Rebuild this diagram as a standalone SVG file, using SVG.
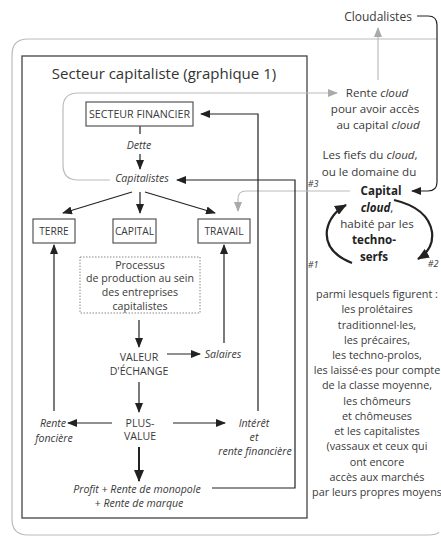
<svg xmlns="http://www.w3.org/2000/svg" width="441" height="538" viewBox="0 0 441 538">
<defs>
<marker id="ab" markerUnits="userSpaceOnUse" markerWidth="10" markerHeight="8" refX="9" refY="4" orient="auto"><path d="M0,0 L10,4 L0,8 Z" fill="#222"/></marker>
<marker id="ag" markerUnits="userSpaceOnUse" markerWidth="10" markerHeight="8" refX="9" refY="4" orient="auto"><path d="M0,0 L10,4 L0,8 Z" fill="#aaa"/></marker>
<marker id="abig" markerUnits="userSpaceOnUse" markerWidth="12" markerHeight="10" refX="11" refY="5" orient="auto"><path d="M0,0 L12,5 L0,10 Z" fill="#222"/></marker>
</defs>
<style>
text{font-family:"Open Sans","Noto Sans","Liberation Sans",sans-serif;fill:#3a3a3a;}
.t{font-size:10.6px;text-anchor:middle;}
.r{font-size:11.6px;text-anchor:middle;}
.l{font-size:10.8px;text-anchor:middle;}
.i{font-style:italic;}
.b{font-weight:bold;fill:#222;}
.bx{font-size:10.2px;text-anchor:middle;}
.box{fill:#fff;stroke:#555;stroke-width:1.2;}
.k{fill:none;stroke:#222;stroke-width:1.2;}
.g{fill:none;stroke:#bbb;stroke-width:1.2;}
</style>
<path d="M437,39 H28 Q12,39 12,55 V519 Q12,535 28,535 H428 Q437,535 439,532" fill="none" stroke="#bbb" stroke-width="1.2"/>
<rect x="22" y="56" width="285" height="462" fill="none" stroke="#444" stroke-width="1.3"/>
<text x="164" y="79" style="font-size:15px;text-anchor:middle;fill:#333">Secteur capitaliste (graphique 1)</text>
<g id="connectors">
<path class="g" d="M110,180 H78 Q63,180 63,165 V108 Q63,93 78,93 H337" marker-end="url(#ag)"/>
<path class="g" d="M378,80 V28" marker-end="url(#ag)"/>
<path class="g" d="M350,191 H246 Q238,191 238,199 V211" marker-end="url(#ag)"/>
<path class="k" d="M417,16 H428 Q437,16 437,25 V182 Q437,191 428,191 H412" marker-end="url(#ab)"/>
<path class="k" d="M140,126 V134"/>
<path class="k" d="M140,154 V169" marker-end="url(#ab)"/>
<path class="k" d="M132,192 L63,213" marker-end="url(#ab)"/>
<path class="k" d="M140,192 V213" marker-end="url(#ab)"/>
<path class="k" d="M145,192 L215,213" marker-end="url(#ab)"/>
<path class="k" d="M258,411 V114 H201" marker-end="url(#ab)"/>
<path class="k" d="M212,488 H295 V180 H177" marker-end="url(#ab)"/>
<path class="k" d="M54,411 V245" marker-end="url(#ab)"/>
<path class="k" d="M224,343 V245" marker-end="url(#ab)"/>
<path class="k" d="M139,320 V347" marker-end="url(#ab)"/>
<path class="k" d="M167,354 H200" marker-end="url(#ab)"/>
<path class="k" d="M139,382 V412" marker-end="url(#ab)"/>
<path class="k" d="M112,423 H68" marker-end="url(#ab)"/>
<path class="k" d="M173,423 H225" marker-end="url(#ab)"/>
<path d="M139,447 V481" fill="none" stroke="#222" stroke-width="2" marker-end="url(#abig)"/>
<path d="M352,263 Q324,252 327,230 Q330,214 346,205" fill="none" stroke="#222" stroke-width="2.2" marker-end="url(#abig)"/>
<path d="M394,200 Q428,208 432,232 Q434,249 418,259" fill="none" stroke="#222" stroke-width="2.2" marker-end="url(#abig)"/>
</g>
<g id="cloudalistes"><text x="378" y="21" style="font-size:12px;text-anchor:middle">Cloudalistes</text></g>
<g id="rente-cloud">
<text class="r" x="377" y="97">Rente <tspan class="i">cloud</tspan></text>
<text class="r" x="375" y="113">pour avoir accès</text>
<text class="r" x="378" y="128.5">au capital <tspan class="i">cloud</tspan></text>
</g>
<g id="secteur-financier"><rect class="box" x="86" y="102" width="107" height="24"/><text x="139.5" y="118" style="font-size:10px;text-anchor:middle" textLength="101" lengthAdjust="spacingAndGlyphs">SECTEUR FINANCIER</text></g>
<g id="dette"><text class="t i" x="139" y="149">Dette</text></g>
<g id="capitalistes"><text class="t i" x="142" y="182">Capitalistes</text></g>
<g id="terre"><rect class="box" x="33" y="219" width="42" height="24"/><text class="bx" x="54" y="235">TERRE</text></g>
<g id="capital"><rect class="box" x="113" y="219" width="43" height="24"/><text class="bx" x="134.5" y="235">CAPITAL</text></g>
<g id="travail"><rect class="box" x="198" y="219" width="52" height="24"/><text class="bx" x="224" y="235">TRAVAIL</text></g>
<g id="processus">
<rect x="80" y="257" width="120" height="56" fill="none" stroke="#888" stroke-width="1" stroke-dasharray="1.5,1.5"/>
<text class="t" x="140" y="268.5">Processus</text>
<text class="t" x="140" y="282">de production au sein</text>
<text class="t" x="140" y="296">des entreprises</text>
<text class="t" x="140" y="310">capitalistes</text>
</g>
<g id="valeur"><text class="t" x="139" y="361">VALEUR</text><text class="t" x="139" y="375">D'ÉCHANGE</text></g>
<g id="salaires"><text class="t i" x="223" y="358">Salaires</text></g>
<g id="plus-value"><text class="t" x="140" y="427">PLUS-</text><text class="t" x="140" y="440">VALUE</text></g>
<g id="rente-fonciere"><text class="t i" x="53" y="427">Rente</text><text class="t i" x="54" y="442">foncière</text></g>
<g id="interet"><text class="t i" x="254" y="427">Intérêt</text><text class="t i" x="254" y="441">et</text><text class="t i" x="255" y="455">rente financière</text></g>
<g id="profit"><text class="t i" x="137" y="493">Profit + Rente de monopole</text><text class="t i" x="139" y="507">+ Rente de marque</text></g>
<g id="fiefs">
<text class="r" x="370" y="159">Les fiefs du <tspan class="i">cloud</tspan>,</text>
<text class="r" x="369" y="176">ou le domaine du</text>
<text class="r b" x="381" y="195">Capital</text>
<text class="r" x="377" y="212"><tspan class="b i">cloud</tspan>,</text>
<text class="r" x="377" y="228">habité par les</text>
<text class="r b" x="374" y="244">techno-</text>
<text class="r b" x="374" y="261">serfs</text>
<text x="313" y="187" style="font-size:9px;font-style:italic;text-anchor:middle">#3</text>
<text x="313" y="268" style="font-size:9px;font-style:italic;text-anchor:middle">#1</text>
<text x="433" y="267" style="font-size:9px;font-style:italic;text-anchor:middle">#2</text>
</g>
<g id="liste">
<text class="l" x="377" y="298">parmi lesquels figurent :</text>
<text class="l" x="377" y="313.2">les prolétaires</text>
<text class="l" x="377" y="328.5">traditionnel·les,</text>
<text class="l" x="377" y="343.7">les précaires,</text>
<text class="l" x="377" y="358.9">les techno-prolos,</text>
<text class="l" x="377" y="374.2">les laissé·es pour compte</text>
<text class="l" x="377" y="389.4">de la classe moyenne,</text>
<text class="l" x="377" y="404.6">les chômeurs</text>
<text class="l" x="377" y="419.8">et chômeuses</text>
<text class="l" x="377" y="435">et les capitalistes</text>
<text class="l" x="377" y="450.3">(vassaux et ceux qui</text>
<text class="l" x="377" y="465.5">ont encore</text>
<text class="l" x="377" y="480.8">accès aux marchés</text>
<text class="l" x="377" y="496">par leurs propres moyens</text>
</g>
</svg>
